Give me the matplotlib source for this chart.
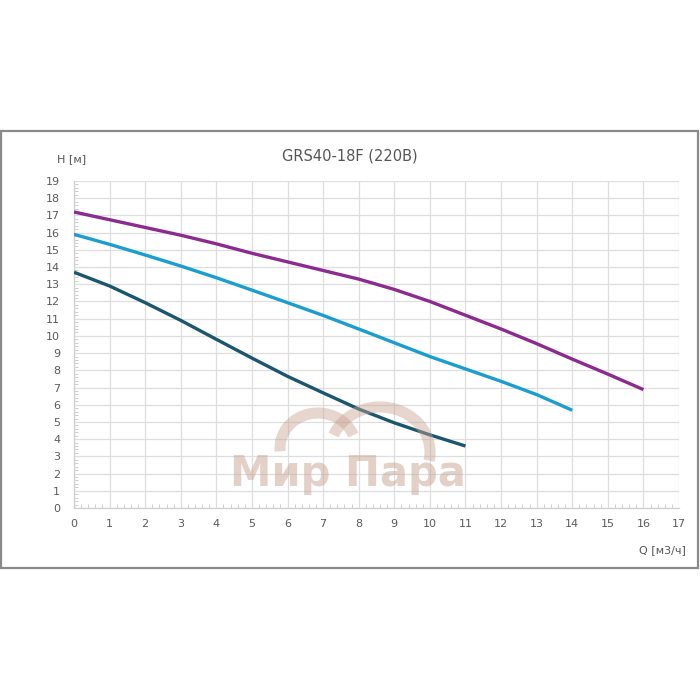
import matplotlib
matplotlib.use("Agg")
import matplotlib.pyplot as plt
from matplotlib.patches import Rectangle, Arc
from matplotlib.ticker import MultipleLocator

title = "GRS40-18F (220B)"
y_label = "H [м]"
x_label = "Q [м3/ч]"
watermark = "Мир Пара"

q_purple = [0, 1, 2, 3, 4, 5, 6, 7, 8, 9, 10, 11, 12, 13, 14, 15, 16]
h_purple = [17.2, 16.75, 16.3, 15.85, 15.35, 14.8, 14.3, 13.8, 13.3, 12.7, 12.0, 11.2, 10.4, 9.55, 8.65, 7.78, 6.88]

q_cyan = [0, 1, 2, 3, 4, 5, 6, 7, 8, 9, 10, 11, 12, 13, 14]
h_cyan = [15.9, 15.32, 14.7, 14.06, 13.38, 12.66, 11.93, 11.19, 10.4, 9.6, 8.8, 8.08, 7.36, 6.59, 5.68]

q_dark = [0, 1, 2, 3, 4, 5, 6, 7, 8, 9, 10, 11]
h_dark = [13.7, 12.9, 11.93, 10.9, 9.8, 8.71, 7.65, 6.69, 5.75, 4.95, 4.25, 3.6]

x_ticks = list(range(0, 18))
y_ticks = list(range(0, 20))

W, H = 700, 700
fig = plt.figure(figsize=(7, 7), dpi=100)
fig.patch.set_facecolor("white")

# outer frame
fig.add_artist(Rectangle((1 / W, (H - 568) / H), 697 / W, 437 / H,
                         transform=fig.transFigure, fill=False,
                         edgecolor="#8a8a8a", linewidth=1.6))

ax = fig.add_axes([74 / W, (H - 508) / H, 605 / W, 327 / H])
ax.set_xlim(0, 17)
ax.set_ylim(0, 19)
ax.set_xticks(x_ticks)
ax.set_yticks(y_ticks)
ax.xaxis.set_minor_locator(MultipleLocator(0.2))
ax.yaxis.set_minor_locator(MultipleLocator(0.2))
ax.grid(True, which="major", color="#dedede", linewidth=0.9)
ax.set_axisbelow(True)
for s in ["top", "right"]:
    ax.spines[s].set_visible(False)
for s in ["left", "bottom"]:
    ax.spines[s].set_color("#cfcfcf")
    ax.spines[s].set_linewidth(0.9)
ax.tick_params(which="major", length=0, labelsize=8, labelcolor="#5a5a5a", pad=8)
ax.tick_params(which="minor", direction="in", length=3, color="#cfcfcf", width=0.7)
ax.tick_params(axis="y", which="major", pad=10)

# watermark
wm_color = "#c9a493"
fig.text(348 / W, (H - 474) / H, watermark, ha="center", va="center",
         fontsize=30, fontweight="bold", color=wm_color, alpha=0.5,
         family=["Liberation Sans Narrow", "DejaVu Sans"])
fig.add_artist(Arc((318 / W, (H - 448) / H), 76 / W, 70 / H, theta1=20, theta2=185,
                   transform=fig.transFigure, color=wm_color, alpha=0.45, linewidth=8))
fig.add_artist(Arc((380 / W, (H - 452) / H), 100 / W, 90 / H, theta1=-10, theta2=160,
                   transform=fig.transFigure, color=wm_color, alpha=0.45, linewidth=8))

ax.plot(q_purple, h_purple, color="#8b2a8f", linewidth=2.4, solid_capstyle="butt", zorder=3)
ax.plot(q_cyan, h_cyan, color="#1a9ed0", linewidth=2.4, solid_capstyle="butt", zorder=3)
ax.plot(q_dark, h_dark, color="#1a566e", linewidth=2.4, solid_capstyle="butt", zorder=3)

fig.text(350 / W, (H - 156) / H, title, ha="center", va="center",
         fontsize=10.5, color="#555555")
fig.text(57 / W, (H - 159) / H, y_label, ha="left", va="center",
         fontsize=8, color="#555555")
fig.text(686 / W, (H - 550) / H, x_label, ha="right", va="center",
         fontsize=8, color="#555555")

fig.savefig("out.png", dpi=100, facecolor="white")
